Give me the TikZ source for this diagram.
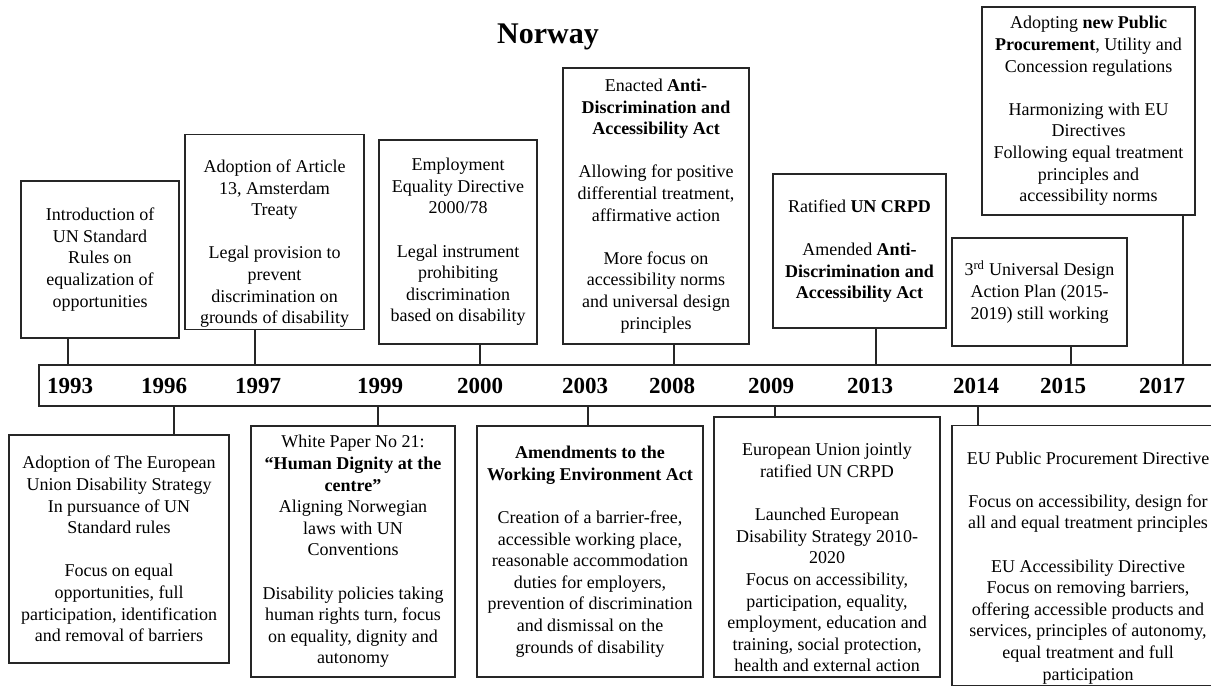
\documentclass[tikz,border=0pt]{standalone}
\usepackage{fontspec}
\setmainfont{Liberation Serif}

\begin{document}
\begin{tikzpicture}
[
    x=1pt,
    y=-1pt,
    event/.style={
        rectangle,
        draw=black!85,
        line width=1.1pt,
        align=center,
        inner sep=2pt,
        font=\fontsize{18}{21.6}\selectfont
    },
    year/.style={
        anchor=base,
        font=\fontsize{23}{27}\selectfont\bfseries
    },
    link/.style={
        draw=black!85,
        line width=1.1pt
    }
]

\useasboundingbox (0,0) rectangle (1211,686);

% =====================
% TITLE
% =====================

\node[
anchor=base,
font=\fontsize{30}{36}\selectfont\bfseries
]
(title)
at (548,43)
{Norway};


% =====================
% TIMELINE BAR
% =====================

\node[
draw=black!85,
line width=1.1pt,
minimum width=1191pt,
minimum height=41pt,
inner sep=0pt
]
(bar)
at (634.5,385.5)
{};

\node[year] (y1993) at (70,393) {1993};
\node[year] (y1996) at (164,393) {1996};
\node[year] (y1997) at (258,393) {1997};
\node[year] (y1999) at (380,393) {1999};
\node[year] (y2000) at (480,393) {2000};
\node[year] (y2003) at (585,393) {2003};
\node[year] (y2008) at (672,393) {2008};
\node[year] (y2009) at (771,393) {2009};
\node[year] (y2013) at (870,393) {2013};
\node[year] (y2014) at (976,393) {2014};
\node[year] (y2015) at (1063,393) {2015};
\node[year] (y2017) at (1162,393) {2017};


% =====================
% EVENTS ABOVE
% =====================

\node[
event,
minimum width=158pt,
minimum height=157pt
]
(b1993)
at (100,259.5)
{
Introduction of\\
UN Standard\\
Rules on\\
equalization of\\
opportunities
};


\node[
event,
minimum width=179pt,
minimum height=192pt
]
(b1997)
at (274.5,232)
{
\rule{0pt}{36pt}Adoption of Article\\
13, Amsterdam\\
Treaty\\[21.6pt]
Legal provision to\\
prevent\\
discrimination on\\
grounds of disability
};


\node[
event,
minimum width=158pt,
minimum height=204pt
]
(b2000)
at (458,242)
{
Employment\\
Equality Directive\\
2000/78\\[21.6pt]
Legal instrument\\
prohibiting\\
discrimination\\
based on disability
};


\node[
event,
minimum width=186pt,
minimum height=276pt
]
(b2008)
at (656,206)
{
Enacted \textbf{Anti-}\\
\textbf{Discrimination and}\\
\textbf{Accessibility Act}\\[21.6pt]
Allowing for positive\\
differential treatment,\\
affirmative action\\[21.6pt]
More focus on\\
accessibility norms\\
and universal design\\
principles
};


\node[
event,
minimum width=173pt,
minimum height=154pt
]
(b2013)
at (859.5,251)
{
Ratified \textbf{UN CRPD}\\[21.6pt]
Amended \textbf{Anti-}\\
\textbf{Discrimination and}\\
\textbf{Accessibility Act}
};


\node[
event,
minimum width=175pt,
minimum height=108pt
]
(b2015)
at (1039.5,292)
{
3\textsuperscript{rd} Universal Design\\
Action Plan (2015-\\
2019) still working
};


\node[
event,
minimum width=213pt,
minimum height=208pt
]
(b2017)
at (1088.5,111)
{
Adopting \textbf{new Public}\\
\textbf{Procurement}, Utility and\\
Concession regulations\\[21.6pt]
Harmonizing with EU\\
Directives\\
Following equal treatment\\
principles and\\
accessibility norms
};


% =====================
% EVENTS BELOW
% =====================

\node[
event,
minimum width=220pt,
minimum height=228pt
]
(b1996)
at (119,549)
{
Adoption of The European\\
Union Disability Strategy\\
In pursuance of UN\\
Standard rules\\[21.6pt]
Focus on equal\\
opportunities, full\\
participation, identification\\
and removal of barriers
};


\node[
event,
minimum width=204pt,
minimum height=251pt
]
(b1999)
at (353,551.5)
{
White Paper No 21:\\
\textbf{“Human Dignity at the}\\
\textbf{centre”}\\
Aligning Norwegian\\
laws with UN\\
Conventions\\[21.6pt]
Disability policies taking\\
human rights turn, focus\\
on equality, dignity and\\
autonomy
};


\node[
event,
minimum width=226pt,
minimum height=251pt
]
(b2003)
at (590,551.5)
{
\textbf{Amendments to the}\\
\textbf{Working Environment Act}\\[21.6pt]
Creation of a barrier-free,\\
accessible working place,\\
reasonable accommodation\\
duties for employers,\\
prevention of discrimination\\
and dismissal on the\\
grounds of disability
};


\node[
event,
minimum width=226pt,
minimum height=260pt
]
(b2009)
at (827,547)
{
\rule{0pt}{34pt}European Union jointly\\
ratified UN CRPD\\[21.6pt]
Launched European\\
Disability Strategy 2010-\\
2020\\
Focus on accessibility,\\
participation, equality,\\
employment, education and\\
training, social protection,\\
health and external action
};


\node[
event,
minimum width=272pt,
minimum height=259pt
]
(b2014)
at (1088,555.5)
{
\rule{0pt}{37pt}EU Public Procurement Directive\\[21.6pt]
Focus on accessibility, design for\\
all and equal treatment principles\\[21.6pt]
EU Accessibility Directive\\
Focus on removing barriers,\\
offering accessible products and\\
services, principles of autonomy,\\
equal treatment and full\\
participation
};


% =====================
% CONNECTIONS
% =====================

\draw[link]
([xshift=-32pt]b1993.south)
--
([xshift=-32pt]b1993.south |- bar.north);

\draw[link]
([xshift=-19.5pt]b1997.south)
--
([xshift=-19.5pt]b1997.south |- bar.north);

\draw[link]
([xshift=22pt]b2000.south)
--
([xshift=22pt]b2000.south |- bar.north);

\draw[link]
([xshift=18pt]b2008.south)
--
([xshift=18pt]b2008.south |- bar.north);

\draw[link]
([xshift=16.5pt]b2013.south)
--
([xshift=16.5pt]b2013.south |- bar.north);

\draw[link]
([xshift=31.5pt]b2015.south)
--
([xshift=31.5pt]b2015.south |- bar.north);

\draw[link]
([xshift=94.5pt]b2017.south)
--
([xshift=94.5pt]b2017.south |- bar.north);

\draw[link]
([xshift=55pt]b1996.north)
--
([xshift=55pt]b1996.north |- bar.south);

\draw[link]
([xshift=25pt]b1999.north)
--
([xshift=25pt]b1999.north |- bar.south);

\draw[link]
([xshift=-2pt]b2003.north)
--
([xshift=-2pt]b2003.north |- bar.south);

\draw[link]
([xshift=-52pt]b2009.north)
--
([xshift=-52pt]b2009.north |- bar.south);

\draw[link]
([xshift=-110pt]b2014.north)
--
([xshift=-110pt]b2014.north |- bar.south);


\end{tikzpicture}
\end{document}
